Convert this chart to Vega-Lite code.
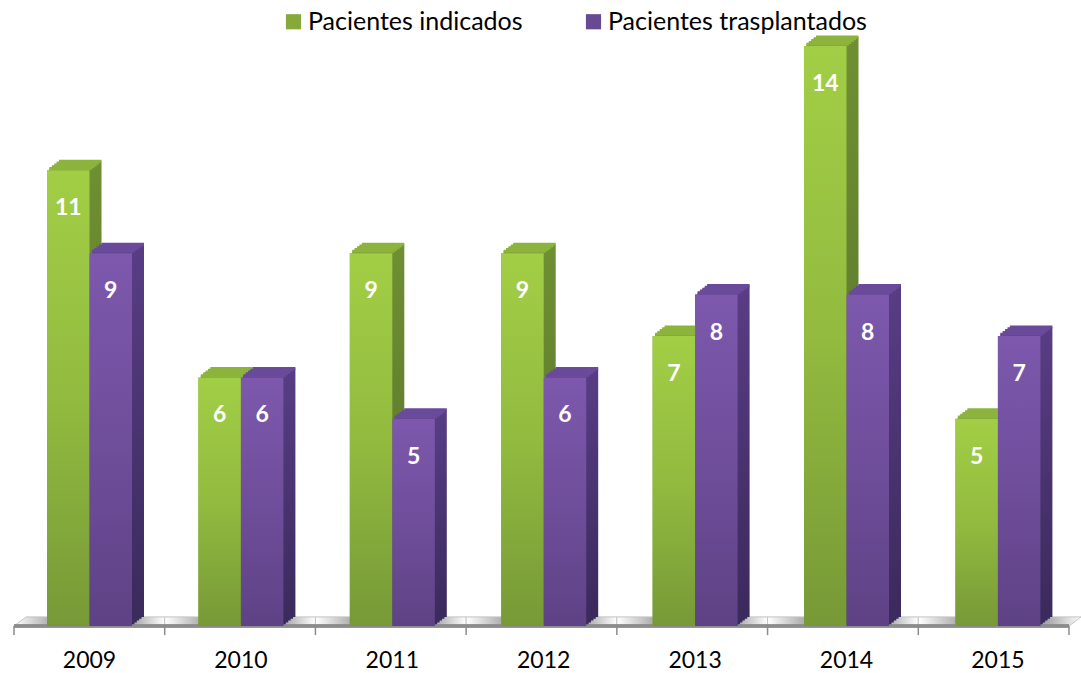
{
"$schema":"https://vega.github.io/schema/vega-lite/v6.json",
"width":1081,"height":626,"padding":{"left":0,"top":0,"right":0,"bottom":47},"autosize":"none",
"background":"white",
"config":{"view":{"stroke":null},"font":"Lato"},
"datasets":{
"barras":[
{"anio":"2009","serie":"Pacientes indicados","valor":11},{"anio":"2009","serie":"Pacientes trasplantados","valor":9},
{"anio":"2010","serie":"Pacientes indicados","valor":6},{"anio":"2010","serie":"Pacientes trasplantados","valor":6},
{"anio":"2011","serie":"Pacientes indicados","valor":9},{"anio":"2011","serie":"Pacientes trasplantados","valor":5},
{"anio":"2012","serie":"Pacientes indicados","valor":9},{"anio":"2012","serie":"Pacientes trasplantados","valor":6},
{"anio":"2013","serie":"Pacientes indicados","valor":7},{"anio":"2013","serie":"Pacientes trasplantados","valor":8},
{"anio":"2014","serie":"Pacientes indicados","valor":14},{"anio":"2014","serie":"Pacientes trasplantados","valor":8},
{"anio":"2015","serie":"Pacientes indicados","valor":5},{"anio":"2015","serie":"Pacientes trasplantados","valor":7}],
"suelo":[
{"b":0,"x":0,"y":0,"y2":0},{"b":0,"x":0.08,"y":0,"y2":0.22},{"b":0,"x":1,"y":0,"y2":0.22},
{"b":1,"x":1,"y":0,"y2":0.22},{"b":1,"x":2,"y":0,"y2":0.22},
{"b":2,"x":2,"y":0,"y2":0.22},{"b":2,"x":3,"y":0,"y2":0.22},
{"b":3,"x":3,"y":0,"y2":0.22},{"b":3,"x":4,"y":0,"y2":0.22},
{"b":4,"x":4,"y":0,"y2":0.22},{"b":4,"x":5,"y":0,"y2":0.22},
{"b":5,"x":5,"y":0,"y2":0.22},{"b":5,"x":6,"y":0,"y2":0.22},
{"b":6,"x":6,"y":0,"y2":0.22},{"b":6,"x":7,"y":0,"y2":0.22},{"b":6,"x":7.08,"y":0.22,"y2":0.22}],
"marcas":[{"k":0},{"k":1},{"k":2},{"k":3},{"k":4},{"k":5},{"k":6},{"k":7}]
},
"layer":[
{"data":{"name":"suelo"},
 "mark":{"type":"area","fill":{"gradient":"linear","x1":0,"y1":0,"x2":1,"y2":0,"stops":[{"offset":0,"color":"#ffffff"},{"offset":0.25,"color":"#aaaaaa"},{"offset":0.8,"color":"#aaaaaa"},{"offset":1,"color":"#ffffff"}]},"stroke":"#c4c4c4","strokeWidth":1},
 "encoding":{"detail":{"field":"b"},"x":{"field":"x","type":"quantitative","scale":{"domain":[0,7],"range":[14,1069]},"axis":null},"y":{"field":"y","type":"quantitative","scale":{"domain":[0,14],"range":[626,46]},"axis":null},"y2":{"field":"y2"}}},
{"data":{"name":"marcas"},
 "mark":{"type":"rule","stroke":"#8c8c8c","strokeWidth":1.5},
 "encoding":{"x":{"field":"k","type":"quantitative","scale":{"domain":[0,7],"range":[14,1069]},"axis":null},"y":{"datum":0,"type":"quantitative","scale":{"domain":[0,14],"range":[626,46]},"axis":null},"y2":{"datum":-0.22}}},
{"data":{"name":"marcas"},
 "mark":{"type":"rule","stroke":"#8c8c8c","strokeWidth":2.5},
 "encoding":{"x":{"datum":0,"type":"quantitative","scale":{"domain":[0,7],"range":[14,1069]},"axis":null},"x2":{"datum":7},"y":{"datum":0,"type":"quantitative","scale":{"domain":[0,14],"range":[626,46]},"axis":null}}},
{"data":{"name":"barras"},
 "encoding":{
  "x":{"field":"anio","type":"nominal","sort":null,"scale":{"range":[13.8,1073.6],"paddingInner":0.4386,"paddingOuter":0.2193},"axis":{"title":null,"ticks":false,"domain":false,"labelAngle":0,"labelFont":"Lato","labelFontSize":23,"labelColor":"#000000","labelPadding":23,"grid":false}},
  "y":{"field":"valor","type":"quantitative","scale":{"domain":[0,14],"range":[626,46]},"axis":null}
 },
 "layer":[
  {"mark":{"type":"bar"},"encoding":{"xOffset":{"field":"serie","type":"nominal","sort":null,"scale":{"paddingInner":0,"paddingOuter":0}},"color":{"field":"serie","type":"nominal","sort":null,"scale":{"domain":["Pacientes indicados","Pacientes trasplantados"],"range":["#86aa3a","#674a92"]},"legend":{"title":null,"orient":"none","legendX":281,"legendY":9,"direction":"horizontal","columns":2,"symbolType":"square","symbolSize":230,"symbolOpacity":1,"labelFont":"Lato","labelFontSize":25,"labelLimit":400,"labelColor":"#000000","columnPadding":58,"labelOffset":2,"symbolStrokeWidth":0}}}},
  {"transform":[{"filter":"datum.serie === 'Pacientes indicados'"}],
   "resolve":{"scale":{"xOffset":"independent"}},
   "layer":[
    {"mark":{"type":"bar","yOffset":-9,"fill":{"gradient":"linear","x1":0,"y1":0,"x2":0,"y2":1,"stops":[{"offset":0,"color":"#6f8f33"},{"offset":1,"color":"#54702a"}]}},"encoding":{"xOffset":{"field":"serie","type":"nominal","sort":null,"scale":{"domain":["Pacientes indicados","Pacientes trasplantados"],"range":[12,97],"paddingInner":0,"paddingOuter":0}}}},
    {"mark":{"type":"tick","orient":"horizontal","size":42.5,"thickness":3,"yOffset":-9,"color":"#8cb33c","opacity":1},"encoding":{"xOffset":{"field":"serie","type":"nominal","sort":null,"scale":{"domain":["Pacientes indicados","Pacientes trasplantados"],"range":[12,97],"paddingInner":0,"paddingOuter":0}}}},
    {"mark":{"type":"bar","yOffset":-7.2,"fill":{"gradient":"linear","x1":0,"y1":0,"x2":0,"y2":1,"stops":[{"offset":0,"color":"#6f8f33"},{"offset":1,"color":"#54702a"}]}},"encoding":{"xOffset":{"field":"serie","type":"nominal","sort":null,"scale":{"domain":["Pacientes indicados","Pacientes trasplantados"],"range":[9.6,94.6],"paddingInner":0,"paddingOuter":0}}}},
    {"mark":{"type":"tick","orient":"horizontal","size":42.5,"thickness":3,"yOffset":-7.2,"color":"#8cb33c","opacity":1},"encoding":{"xOffset":{"field":"serie","type":"nominal","sort":null,"scale":{"domain":["Pacientes indicados","Pacientes trasplantados"],"range":[9.6,94.6],"paddingInner":0,"paddingOuter":0}}}},
    {"mark":{"type":"bar","yOffset":-5.4,"fill":{"gradient":"linear","x1":0,"y1":0,"x2":0,"y2":1,"stops":[{"offset":0,"color":"#6f8f33"},{"offset":1,"color":"#54702a"}]}},"encoding":{"xOffset":{"field":"serie","type":"nominal","sort":null,"scale":{"domain":["Pacientes indicados","Pacientes trasplantados"],"range":[7.2,92.2],"paddingInner":0,"paddingOuter":0}}}},
    {"mark":{"type":"tick","orient":"horizontal","size":42.5,"thickness":3,"yOffset":-5.4,"color":"#8cb33c","opacity":1},"encoding":{"xOffset":{"field":"serie","type":"nominal","sort":null,"scale":{"domain":["Pacientes indicados","Pacientes trasplantados"],"range":[7.2,92.2],"paddingInner":0,"paddingOuter":0}}}},
    {"mark":{"type":"bar","yOffset":-3.6,"fill":{"gradient":"linear","x1":0,"y1":0,"x2":0,"y2":1,"stops":[{"offset":0,"color":"#6f8f33"},{"offset":1,"color":"#54702a"}]}},"encoding":{"xOffset":{"field":"serie","type":"nominal","sort":null,"scale":{"domain":["Pacientes indicados","Pacientes trasplantados"],"range":[4.8,89.8],"paddingInner":0,"paddingOuter":0}}}},
    {"mark":{"type":"tick","orient":"horizontal","size":42.5,"thickness":3,"yOffset":-3.6,"color":"#8cb33c","opacity":1},"encoding":{"xOffset":{"field":"serie","type":"nominal","sort":null,"scale":{"domain":["Pacientes indicados","Pacientes trasplantados"],"range":[4.8,89.8],"paddingInner":0,"paddingOuter":0}}}},
    {"mark":{"type":"bar","yOffset":-1.8,"fill":{"gradient":"linear","x1":0,"y1":0,"x2":0,"y2":1,"stops":[{"offset":0,"color":"#6f8f33"},{"offset":1,"color":"#54702a"}]}},"encoding":{"xOffset":{"field":"serie","type":"nominal","sort":null,"scale":{"domain":["Pacientes indicados","Pacientes trasplantados"],"range":[2.4,87.4],"paddingInner":0,"paddingOuter":0}}}},
    {"mark":{"type":"tick","orient":"horizontal","size":42.5,"thickness":3,"yOffset":-1.8,"color":"#8cb33c","opacity":1},"encoding":{"xOffset":{"field":"serie","type":"nominal","sort":null,"scale":{"domain":["Pacientes indicados","Pacientes trasplantados"],"range":[2.4,87.4],"paddingInner":0,"paddingOuter":0}}}},
    {"mark":{"type":"bar","fill":{"gradient":"linear","x1":0,"y1":0,"x2":0,"y2":1,"stops":[{"offset":0,"color":"#a2ce46"},{"offset":0.5,"color":"#92bb3f"},{"offset":1,"color":"#779937"}]}},"encoding":{"xOffset":{"field":"serie","type":"nominal","sort":null,"scale":{"domain":["Pacientes indicados","Pacientes trasplantados"],"range":[0,85],"paddingInner":0,"paddingOuter":0}}}}
   ]},
  {"transform":[{"filter":"datum.serie === 'Pacientes trasplantados'"}],
   "resolve":{"scale":{"xOffset":"independent"}},
   "layer":[
    {"mark":{"type":"bar","yOffset":-9,"fill":{"gradient":"linear","x1":0,"y1":0,"x2":0,"y2":1,"stops":[{"offset":0,"color":"#583d84"},{"offset":1,"color":"#3b2a5c"}]}},"encoding":{"xOffset":{"field":"serie","type":"nominal","sort":null,"scale":{"domain":["Pacientes indicados","Pacientes trasplantados"],"range":[12,97],"paddingInner":0,"paddingOuter":0}}}},
    {"mark":{"type":"tick","orient":"horizontal","size":42.5,"thickness":3,"yOffset":-9,"color":"#6a4a9a","opacity":1},"encoding":{"xOffset":{"field":"serie","type":"nominal","sort":null,"scale":{"domain":["Pacientes indicados","Pacientes trasplantados"],"range":[12,97],"paddingInner":0,"paddingOuter":0}}}},
    {"mark":{"type":"bar","yOffset":-7.2,"fill":{"gradient":"linear","x1":0,"y1":0,"x2":0,"y2":1,"stops":[{"offset":0,"color":"#583d84"},{"offset":1,"color":"#3b2a5c"}]}},"encoding":{"xOffset":{"field":"serie","type":"nominal","sort":null,"scale":{"domain":["Pacientes indicados","Pacientes trasplantados"],"range":[9.6,94.6],"paddingInner":0,"paddingOuter":0}}}},
    {"mark":{"type":"tick","orient":"horizontal","size":42.5,"thickness":3,"yOffset":-7.2,"color":"#6a4a9a","opacity":1},"encoding":{"xOffset":{"field":"serie","type":"nominal","sort":null,"scale":{"domain":["Pacientes indicados","Pacientes trasplantados"],"range":[9.6,94.6],"paddingInner":0,"paddingOuter":0}}}},
    {"mark":{"type":"bar","yOffset":-5.4,"fill":{"gradient":"linear","x1":0,"y1":0,"x2":0,"y2":1,"stops":[{"offset":0,"color":"#583d84"},{"offset":1,"color":"#3b2a5c"}]}},"encoding":{"xOffset":{"field":"serie","type":"nominal","sort":null,"scale":{"domain":["Pacientes indicados","Pacientes trasplantados"],"range":[7.2,92.2],"paddingInner":0,"paddingOuter":0}}}},
    {"mark":{"type":"tick","orient":"horizontal","size":42.5,"thickness":3,"yOffset":-5.4,"color":"#6a4a9a","opacity":1},"encoding":{"xOffset":{"field":"serie","type":"nominal","sort":null,"scale":{"domain":["Pacientes indicados","Pacientes trasplantados"],"range":[7.2,92.2],"paddingInner":0,"paddingOuter":0}}}},
    {"mark":{"type":"bar","yOffset":-3.6,"fill":{"gradient":"linear","x1":0,"y1":0,"x2":0,"y2":1,"stops":[{"offset":0,"color":"#583d84"},{"offset":1,"color":"#3b2a5c"}]}},"encoding":{"xOffset":{"field":"serie","type":"nominal","sort":null,"scale":{"domain":["Pacientes indicados","Pacientes trasplantados"],"range":[4.8,89.8],"paddingInner":0,"paddingOuter":0}}}},
    {"mark":{"type":"tick","orient":"horizontal","size":42.5,"thickness":3,"yOffset":-3.6,"color":"#6a4a9a","opacity":1},"encoding":{"xOffset":{"field":"serie","type":"nominal","sort":null,"scale":{"domain":["Pacientes indicados","Pacientes trasplantados"],"range":[4.8,89.8],"paddingInner":0,"paddingOuter":0}}}},
    {"mark":{"type":"bar","yOffset":-1.8,"fill":{"gradient":"linear","x1":0,"y1":0,"x2":0,"y2":1,"stops":[{"offset":0,"color":"#583d84"},{"offset":1,"color":"#3b2a5c"}]}},"encoding":{"xOffset":{"field":"serie","type":"nominal","sort":null,"scale":{"domain":["Pacientes indicados","Pacientes trasplantados"],"range":[2.4,87.4],"paddingInner":0,"paddingOuter":0}}}},
    {"mark":{"type":"tick","orient":"horizontal","size":42.5,"thickness":3,"yOffset":-1.8,"color":"#6a4a9a","opacity":1},"encoding":{"xOffset":{"field":"serie","type":"nominal","sort":null,"scale":{"domain":["Pacientes indicados","Pacientes trasplantados"],"range":[2.4,87.4],"paddingInner":0,"paddingOuter":0}}}},
    {"mark":{"type":"bar","fill":{"gradient":"linear","x1":0,"y1":0,"x2":0,"y2":1,"stops":[{"offset":0,"color":"#7d58ad"},{"offset":0.5,"color":"#6f4e9b"},{"offset":1,"color":"#5e4285"}]}},"encoding":{"xOffset":{"field":"serie","type":"nominal","sort":null,"scale":{"domain":["Pacientes indicados","Pacientes trasplantados"],"range":[0,85],"paddingInner":0,"paddingOuter":0}}}}
   ]},
  {"mark":{"type":"text","color":"white","font":"Lato","fontWeight":"bold","fontSize":23,"baseline":"middle","dy":38},"encoding":{"xOffset":{"field":"serie","type":"nominal","sort":null,"scale":{"paddingInner":0,"paddingOuter":0}},"text":{"field":"valor","type":"quantitative"}}}
 ]}
],
"resolve":{"scale":{"x":"independent"}}
}
